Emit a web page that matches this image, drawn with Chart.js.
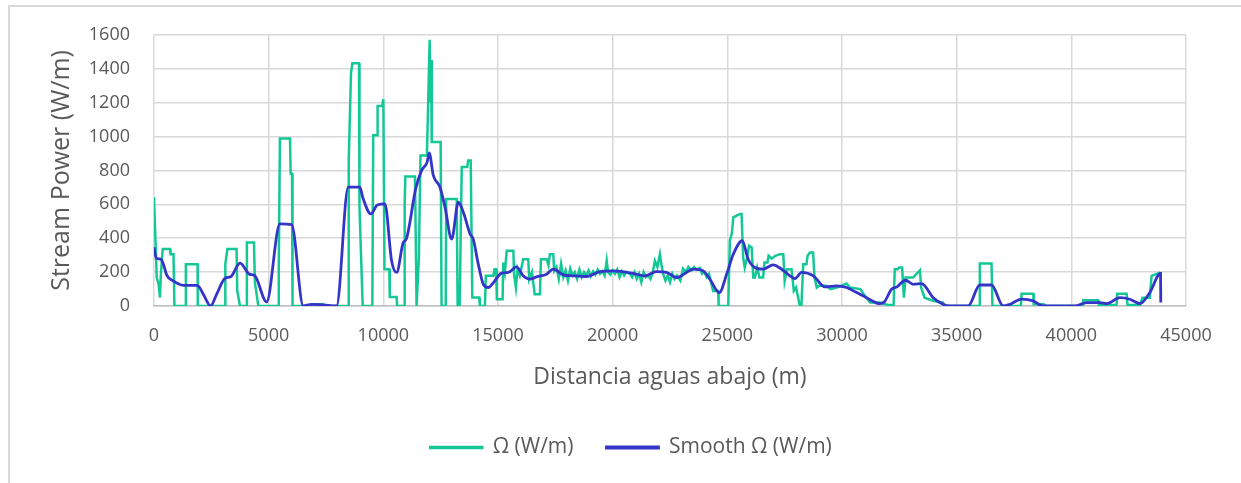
<!DOCTYPE html>
<html>
<head>
<meta charset="utf-8">
<script src="https://cdn.jsdelivr.net/npm/chart.js@4.4.0/dist/chart.umd.min.js"></script>
<style>
  html, body { margin: 0; padding: 0; background: #fff; }
  #wrap { position: relative; width: 1241px; height: 483px; overflow: hidden; }
  #frame { position: absolute; left: 8px; top: 5px; width: 1400px; height: 600px;
           border-left: 2px solid #d9d9d9; border-top: 2px solid #d9d9d9; box-sizing: border-box; }
  canvas { position: absolute; left: 0; top: 0; }
</style>
</head>
<body>
<div id="wrap">
  <div id="frame"></div>
  <canvas id="c" width="1241" height="483"></canvas>
</div>
<script>
// Distance downstream (m) and stream power (W/m)
const omegaX = [0,60,120,200,260,300,380,700,720,850,890,1380,1390,1900,1910,3100,3110,3200,3600,3630,3750,4040,4050,4360,4400,4550,5420,5440,5490,5930,5960,6020,6040,6870,6880,7380,7390,8470,8490,8590,8650,8940,8960,9100,9520,9560,9740,9750,9950,10000,10050,10260,10280,10580,10600,10910,10930,10960,11380,11450,11550,11620,11900,11990,12020,12050,12080,12110,12500,12540,12720,12740,13200,13240,13330,13380,13420,13660,13700,13810,13840,13880,14180,14210,14430,14470,14800,14850,14920,14950,15200,15230,15300,15380,15670,15700,15780,15850,15950,16100,16320,16360,16480,16600,16830,16870,17120,17200,17260,17410,17450,17550,17650,17750,17850,17950,18050,18150,18250,18350,18450,18550,18650,18750,18850,18950,19050,19150,19250,19350,19450,19550,19650,19740,19800,19900,20000,20100,20200,20300,20400,20500,20600,20750,20850,20950,21050,21150,21250,21350,21450,21550,21650,21750,21840,21950,22060,22130,22200,22300,22400,22500,22600,22700,22800,22950,23070,23200,23300,23450,23550,23650,23800,23900,24000,24100,24200,24380,24600,24620,25040,25110,25200,25260,25550,25620,25690,25760,25850,25950,26060,26130,26200,26300,26400,26560,26620,26750,26800,26930,27100,27290,27440,27500,27600,27800,27900,28000,28160,28230,28310,28450,28500,28600,28740,28800,28900,29000,29300,29500,29800,30200,30340,30800,31000,31220,31650,32000,32250,32300,32420,32500,32620,32700,32770,33100,33400,33450,33600,34000,34400,34450,36000,36010,36520,36560,37800,37830,38340,38360,38800,38900,40500,40520,41170,41200,41970,42000,42410,42450,42990,43100,43420,43500,43890];
const omegaY = [642,400,168,130,50,188,336,336,306,306,0,0,247,247,0,0,247,336,336,89,0,0,375,375,138,0,0,207,988,988,780,780,0,0,10,10,0,0,849,1373,1432,1432,583,0,0,1007,1007,1180,1180,1220,217,217,53,53,0,0,602,764,764,0,286,888,888,1400,1570,1200,1451,967,967,0,0,632,632,0,0,484,820,820,859,859,504,50,50,0,0,178,178,217,217,40,40,257,200,326,326,188,109,220,180,276,276,158,200,69,69,276,276,240,306,306,207,230,160,250,170,210,150,220,180,200,160,215,170,200,180,210,175,205,185,215,190,205,180,267,200,185,210,190,215,170,205,180,200,190,170,200,160,190,140,200,170,180,160,200,267,230,306,240,190,150,180,140,190,160,180,150,220,200,230,210,230,215,225,190,200,170,190,89,89,0,0,385,430,523,543,543,286,227,280,356,346,168,168,227,168,168,257,257,296,280,296,306,306,148,217,217,89,109,0,0,247,247,296,316,316,168,109,119,119,100,110,132,109,100,60,20,20,6,6,217,217,227,227,49,168,168,211,109,49,30,20,0,0,251,251,0,0,73,73,10,10,0,0,34,34,6,6,73,73,6,6,49,49,178,198];
const smoothX = [0,100,290,410,550,840,1280,1890,2150,2470,2730,3100,3340,3750,4160,4400,4910,5490,6000,6510,6870,7380,7960,8470,8980,9100,9460,9740,10070,10360,10580,10870,11000,11410,11670,11910,12000,12180,12470,12690,12980,13270,13490,13780,13920,14140,14360,14580,14800,15160,15450,15810,16100,16390,16680,17120,17410,17850,18280,18860,19450,20030,20900,21400,21910,22350,22790,23220,23510,23950,24240,24650,24970,25260,25650,25910,26200,26560,27000,27370,27730,27950,28240,28750,29260,29760,30200,30640,31070,31650,31850,32160,32400,32770,33110,33470,33980,34410,34700,35500,36010,36520,37030,37320,37830,38340,38770,40160,40660,41250,41540,42120,42550,42990,43420,43890,43900];
const smoothY = [346,282,277,247,184,148,122,122,69,0,69,164,172,253,188,178,24,484,480,0,10,6,0,701,701,642,543,596,602,267,198,375,395,691,800,849,903,770,701,583,395,612,553,425,395,247,128,109,138,194,198,231,178,158,172,188,217,184,178,174,203,207,192,178,203,198,168,198,217,207,158,79,188,306,385,276,227,217,243,217,178,162,198,178,113,119,109,79,49,14,25,99,113,152,128,132,49,10,0,0,124,124,0,10,40,30,0,0,20,20,14,49,40,14,79,192,20];
const seriesNames = ['\u03A9 (W/m)', 'Smooth \u03A9 (W/m)'];
const xTitle = 'Distancia aguas abajo (m)';
const yTitle = 'Stream Power (W/m)';

const FONT = '"Open Sans", Lato, sans-serif';
const TXT = '#595959';

new Chart(document.getElementById('c'), {
  type: 'line',
  data: {
    datasets: [
      { label: seriesNames[0], data: omegaX.map((x, i) => ({ x, y: omegaY[i] })),
        borderColor: '#14C896', backgroundColor: '#14C896', borderWidth: 2.5,
        pointRadius: 0, tension: 0, order: 2 },
      { label: seriesNames[1], data: smoothX.map((x, i) => ({ x, y: smoothY[i] })),
        borderColor: '#3434C8', backgroundColor: '#3434C8', borderWidth: 2.8,
        pointRadius: 0, cubicInterpolationMode: 'monotone', order: 1 }
    ]
  },
  options: {
    responsive: false,
    animation: false,
    devicePixelRatio: 1,
    layout: { padding: { top: 34, left: 76, right: 55, bottom: 15 } },
    plugins: {
      tooltip: { enabled: false },
      legend: {
        position: 'bottom',
        labels: {
          boxWidth: 52, boxHeight: 1, padding: 33, color: TXT,
          font: { family: FONT, size: 21 },
          sort: (a, b) => a.datasetIndex - b.datasetIndex
        }
      }
    },
    scales: {
      x: {
        type: 'linear', min: 0, max: 45000,
        afterFit: s => { s.height = 98; },
        ticks: { stepSize: 5000, color: TXT, font: { family: FONT, size: 18 }, padding: 19, maxRotation: 0, autoSkip: false,
                 callback: v => String(v) },
        grid: { color: '#d9d9d9', lineWidth: 1.5, drawTicks: false },
        border: { color: '#bfbfbf', width: 1.5 },
        title: { display: true, text: xTitle, color: TXT, font: { family: FONT, size: 23 }, padding: { bottom: 13 } }
      },
      y: {
        min: 0, max: 1600,
        afterFit: s => { s.width = 78; },
        ticks: { stepSize: 200, color: TXT, font: { family: FONT, size: 18 }, padding: 24,
                 callback: v => String(v) },
        grid: { color: '#d9d9d9', lineWidth: 1.5, drawTicks: false },
        border: { display: false },
        title: { display: true, text: yTitle, color: TXT, font: { family: FONT, size: 25 }, padding: { top: -29 } }
      }
    }
  }
});
</script>
</body>
</html>
